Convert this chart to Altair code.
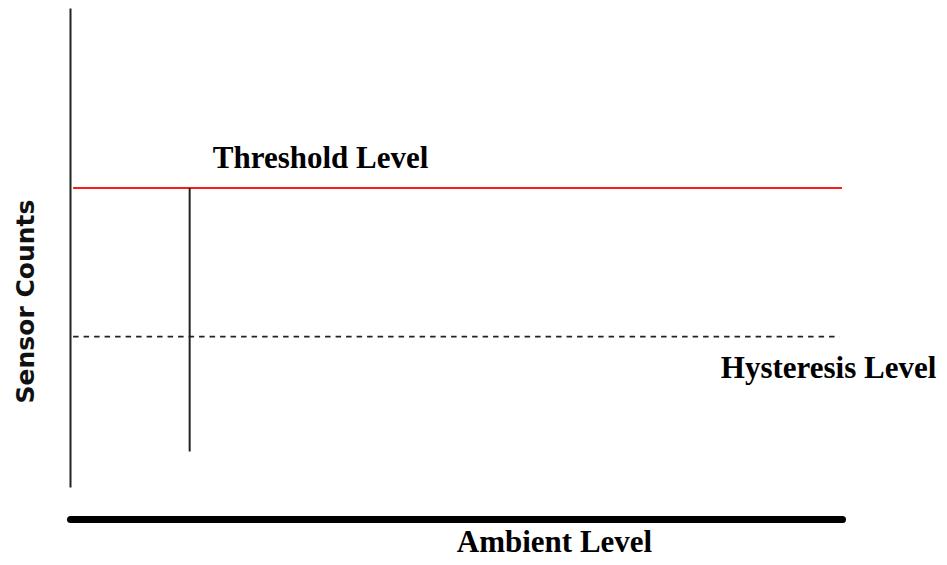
import altair as alt
import pandas as pd

# Diagram values (abstract units: x = ambient level 0-100, y = sensor counts 0-100)
threshold_level = [62.4]
hysteresis_level = [31.4]
line_x_start = [0.4]
line_x_end = [100.0]
dash_x_end = [99.7]
event_x = [15.5]
event_y_low = [7.4]
label_text = ["Threshold Level", "Hysteresis Level"]
label_x = [18.5, 84.3]
label_y = [66.6, 22.7]

serif = "Times New Roman, Liberation Serif, serif"

xs = alt.Scale(domain=[0, 100], nice=False, zero=False)
ys = alt.Scale(domain=[0, 100], nice=False, zero=False)

base_df = pd.DataFrame({"x": [0, 100], "y": [0, 100]})

axes = alt.Chart(base_df).mark_point(opacity=0).encode(
    x=alt.X("x:Q", scale=xs, axis=alt.Axis(
        title="Ambient Level", labels=False, ticks=False, grid=False,
        domainColor="#000000", domainWidth=7, domainCap="round", offset=32,
        titleFont=serif, titleFontSize=31, titleFontWeight="bold", titleColor="#000000",
        titleX=484, titleY=32, titleBaseline="alphabetic", titleAlign="center")),
    y=alt.Y("y:Q", scale=ys, axis=alt.Axis(
        title="Sensor Counts", labels=False, ticks=False, grid=False,
        domainColor="#222222", domainWidth=2,
        titleFont="DejaVu Sans", titleFontSize=25, titleFontWeight="bold", titleColor="#111111",
        titleX=-37, titleY=293, titleAngle=270, titleBaseline="alphabetic", titleAlign="center")),
)

thr_df = pd.DataFrame({"x": line_x_start, "x2": line_x_end, "y": threshold_level})
thr = alt.Chart(thr_df).mark_rule(color="#ff1a1a", strokeWidth=2).encode(
    x=alt.X("x:Q", scale=xs), x2="x2:Q", y=alt.Y("y:Q", scale=ys))

hys_df = pd.DataFrame({"x": line_x_start, "x2": dash_x_end, "y": hysteresis_level})
hys = alt.Chart(hys_df).mark_rule(color="#222222", strokeWidth=1.6, strokeDash=[5.5, 5]).encode(
    x=alt.X("x:Q", scale=xs), x2="x2:Q", y=alt.Y("y:Q", scale=ys))

ev_df = pd.DataFrame({"x": event_x, "y": event_y_low, "y2": threshold_level})
ev = alt.Chart(ev_df).mark_rule(color="#222222", strokeWidth=2).encode(
    x=alt.X("x:Q", scale=xs), y=alt.Y("y:Q", scale=ys), y2="y2:Q")

lab_df = pd.DataFrame({"t": label_text, "x": label_x, "y": label_y})
labels = alt.Chart(lab_df).mark_text(
    align="left", baseline="alphabetic", font=serif, fontSize=31, fontWeight="bold", color="#000000"
).encode(x=alt.X("x:Q", scale=xs), y=alt.Y("y:Q", scale=ys), text="t:N")

chart = alt.layer(axes, thr, hys, ev, labels).properties(
    width=772, height=479,
    autosize=alt.AutoSizeParams(type="none"),
    padding={"left": 62, "top": 0, "right": 97, "bottom": 70},
    background="white",
).configure_view(stroke=None)

chart.save("out.html", embed_options={"renderer": "svg", "actions": False})
